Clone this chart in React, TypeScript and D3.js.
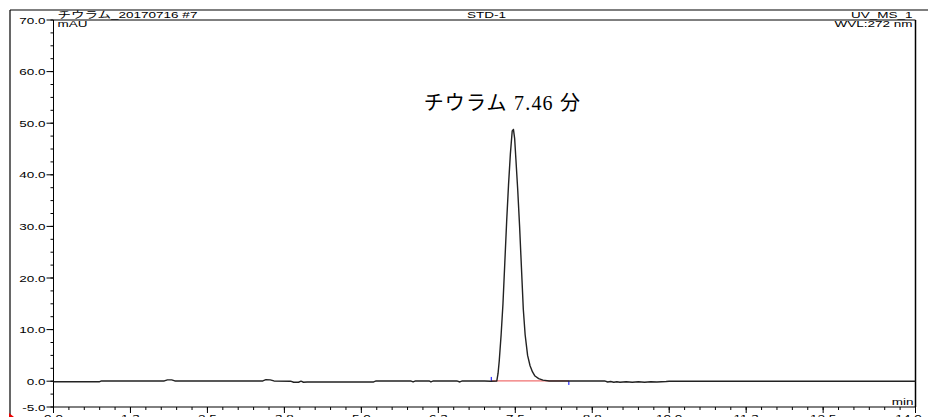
import React from 'react';
import * as d3 from 'd3';

// retention time (min) and detector signal (mAU)
const retention = [
  0, 0.75, 0.78, 1.8, 1.85, 1.92, 1.97, 3.4, 3.45, 3.52, 3.58, 3.85, 3.9, 3.98, 4.02, 4.06, 4.12,
  5.2, 5.24, 5.8, 5.84, 5.88, 6.1, 6.13, 6.17, 6.55, 6.6, 6.64, 7.0, 7.1, 7.2,
  7.22, 7.24, 7.27, 7.3, 7.33, 7.36, 7.39, 7.42, 7.45, 7.47, 7.49, 7.51, 7.54, 7.57, 7.6, 7.63,
  7.66, 7.7, 7.74, 7.78, 7.82, 7.88, 7.95, 8.05, 8.95,
  9.0, 9.05, 9.1, 9.15, 9.2, 9.3, 9.4, 9.5, 9.6, 9.7, 9.8, 9.95, 10.0, 14.0,
];
const signal = [
  -0.1, -0.1, 0.05, 0.05, 0.25, 0.25, 0.05, 0.05, 0.3, 0.25, 0.05, 0.0, -0.2, -0.2, 0.0, -0.2, -0.15,
  -0.15, 0.05, 0.05, -0.15, 0.05, 0.05, -0.15, 0.05, 0.05, -0.15, 0.05, 0.05, 0.0, 0.05,
  1.5, 4, 9, 15, 23, 31, 38, 44, 48.5, 48.8, 47, 43, 37, 30, 22, 14,
  9, 5, 3, 1.8, 1.0, 0.5, 0.2, 0.05, 0.05,
  -0.15, -0.05, -0.2, -0.1, -0.2, -0.1, -0.2, -0.1, -0.2, -0.1, -0.15, -0.05, 0.0, 0.0,
];

// integration limits of the peak and its baseline level
const peakStart = 7.11;
const peakEnd = 8.37;
const peakBase = 0.05;
const peakTime = 7.47;
const peakHeight = 48.8;
const peakLabel = 'チウラム 7.46 分';

const xTicks = [0, 1.25, 2.5, 3.75, 5, 6.25, 7.5, 8.75, 10, 11.25, 12.5, 14];
const xTickLabels = ['0.0', '1.3', '2.5', '3.8', '5.0', '6.3', '7.5', '8.8', '10.0', '11.3', '12.5', '14.0'];
const yTicks = [-5, 0, 10, 20, 30, 40, 50, 60, 70];
const yTickLabels = ['-5.0', '0.0', '10.0', '20.0', '30.0', '40.0', '50.0', '60.0', '70.0'];

const headerLeft = 'チウラム_20170716 #7';
const headerMid = 'STD-1';
const headerRight = 'UV_MS_1';
const unitY = 'mAU';
const wavelength = 'WVL:272 nm';
const unitX = 'min';

const W = 928;
const H = 417;
const font = 'Liberation Sans, Arial, Noto Sans CJK JP, sans-serif';
const stretch = 1.5;

// stretched little bitmap-ish label, like the instrument software prints
function Lbl(props: { x: number; y: number; anchor?: string; children: string }) {
  return (
    <text
      transform={`translate(${props.x},${props.y}) scale(${stretch},1)`}
      textAnchor={props.anchor || 'start'}
      fontFamily={font}
      fontSize={9}
      fill="#000"
    >
      {props.children}
    </text>
  );
}

export default function App() {
  const x = d3.scaleLinear().domain([0, 14]).range([53.5, 915.5]);
  const y = d3.scaleLinear().domain([-5, 70]).range([407, 20]);

  const pts: [number, number][] = retention.map((t, i) => [t, signal[i]]);
  const line = d3
    .line<[number, number]>()
    .x((d) => x(d[0]))
    .y((d) => y(d[1]));

  const xMinor = d3.range(0, 14.001, 0.25);
  const yMinor = d3.range(-5, 70.001, 2.5);

  const left = x(0);
  const right = x(14);
  const top = y(70);
  const bottom = y(-5);

  return (
    <svg
      width={W}
      height={H}
      style={{ position: 'absolute', left: 0, top: 0, display: 'block', background: '#fff' }}
    >
      {/* outer frame */}
      <line x1={10} y1={10} x2={W} y2={10} stroke="#000" strokeWidth={1.2} />
      <line x1={10} y1={10} x2={10} y2={H} stroke="#000" strokeWidth={1.2} />
      <path d={`M9,413 L14,417 L9,417 Z`} fill="#e00" />

      {/* header */}
      <Lbl x={left + 4} y={18}>{headerLeft}</Lbl>
      <Lbl x={(left + right) / 2 + 2} y={18} anchor="middle">{headerMid}</Lbl>
      <Lbl x={right - 3} y={18} anchor="end">{headerRight}</Lbl>
      <Lbl x={left + 4} y={27}>{unitY}</Lbl>
      <Lbl x={right - 3} y={27} anchor="end">{wavelength}</Lbl>

      {/* plot box */}
      <line x1={left} y1={top} x2={right} y2={top} stroke="#000" strokeWidth={1} />
      <line x1={right} y1={top} x2={right} y2={bottom} stroke="#000" strokeWidth={1.5} />
      <line x1={left} y1={top} x2={left} y2={bottom} stroke="#000" strokeWidth={1} />
      <line x1={left} y1={bottom} x2={right} y2={bottom} stroke="#000" strokeWidth={1} />

      {/* y axis */}
      {yMinor.map((v) => (
        <line key={'ym' + v} x1={left - 3} x2={left} y1={y(v)} y2={y(v)} stroke="#000" strokeWidth={1} />
      ))}
      {yTicks.map((v, i) => (
        <g key={'y' + v}>
          <line x1={left - 7} x2={left} y1={y(v)} y2={y(v)} stroke="#000" strokeWidth={1} />
          <Lbl x={left - 8} y={y(v) + 3.5} anchor="end">{yTickLabels[i]}</Lbl>
        </g>
      ))}

      {/* x axis */}
      {xMinor.map((v) => (
        <line key={'xm' + v} x1={x(v)} x2={x(v)} y1={bottom} y2={bottom + 3} stroke="#000" strokeWidth={1} />
      ))}
      {xTicks.map((v, i) => (
        <g key={'x' + v}>
          <line x1={x(v)} x2={x(v)} y1={bottom} y2={bottom + 6} stroke="#000" strokeWidth={1} />
          <Lbl x={i === xTicks.length - 1 ? x(v) - 7 : x(v)} y={bottom + 14} anchor="middle">
            {xTickLabels[i]}
          </Lbl>
        </g>
      ))}
      <Lbl x={right - 2} y={bottom - 2} anchor="end">{unitX}</Lbl>

      {/* integration baseline and delimiters */}
      <line x1={x(peakStart)} x2={x(peakEnd)} y1={y(peakBase)} y2={y(peakBase)} stroke="#f07070" strokeWidth={1.2} />
      <line x1={x(peakStart)} x2={x(peakStart)} y1={y(peakBase) - 4} y2={y(peakBase)} stroke="#0000ff" strokeWidth={1} />
      <line x1={x(peakEnd)} x2={x(peakEnd)} y1={y(peakBase)} y2={y(peakBase) + 4} stroke="#0000ff" strokeWidth={1} />

      {/* chromatogram trace */}
      <path d={line(pts) || ''} fill="none" stroke="#222" strokeWidth={1.4} strokeLinejoin="round" />

      {/* peak annotation */}
      <text
        x={x(peakTime) - 11}
        y={y(peakHeight) - 19}
        textAnchor="middle"
        fontFamily="Liberation Serif, Noto Sans CJK JP, serif"
        fontSize={20}
        letterSpacing={1.2}
        fill="#000"
      >
        {peakLabel}
      </text>
    </svg>
  );
}
